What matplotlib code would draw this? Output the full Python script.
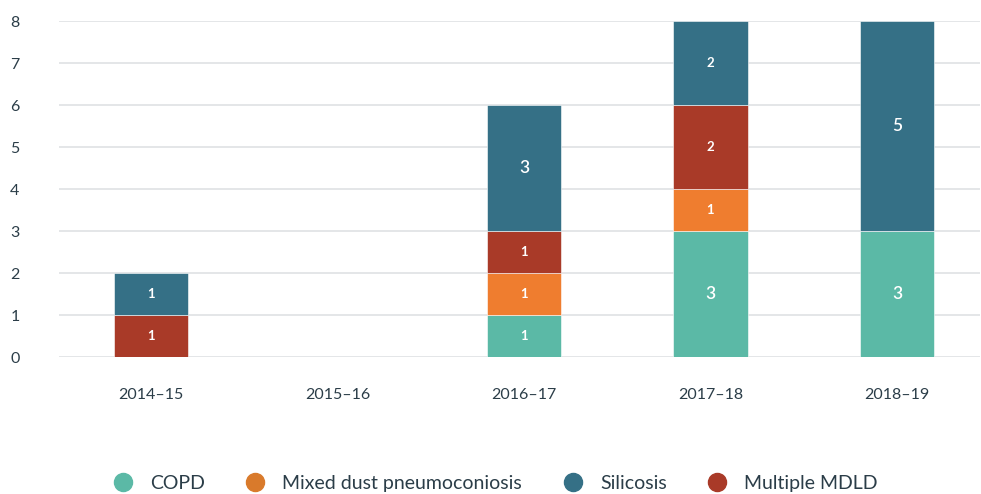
import numpy as np
import matplotlib.pyplot as plt
from matplotlib.lines import Line2D

plt.rcParams['font.family'] = ['Lato', 'DejaVu Sans']

years = ['2014–15', '2015–16', '2016–17', '2017–18', '2018–19']
copd = [0, 0, 1, 3, 3]
mixed_dust = [0, 0, 1, 1, 0]
multiple_mdld = [1, 0, 1, 2, 0]
silicosis = [1, 0, 3, 2, 5]

series = [
    ('COPD', copd, '#5bb9a6'),
    ('Mixed dust pneumoconiosis', mixed_dust, '#ef7d2f'),
    ('Multiple MDLD', multiple_mdld, '#a93a28'),
    ('Silicosis', silicosis, '#357086'),
]

fig = plt.figure(figsize=(9.81, 4.94), dpi=100)
ax = fig.add_axes([0.060, 0.277, 0.939, 0.680])

x = np.arange(len(years))
bottom = np.zeros(len(years))
for name, vals, col in series:
    vals = np.array(vals, dtype=float)
    ax.bar(x, vals, 0.4, bottom=bottom, color=col, edgecolor='white',
           linewidth=0.4, zorder=3)
    for xi, v, b in zip(x, vals, bottom):
        if v > 0:
            if v >= 3:
                ax.text(xi, b + v / 2, f'{int(v)}', ha='center', va='center',
                        color='white', fontsize=12.5, fontweight='semibold',
                        zorder=4)
            else:
                ax.text(xi, b + v / 2, f'{int(v)}', ha='center', va='center',
                        color='white', fontsize=9.5, fontweight='bold', zorder=4)
    bottom += vals

ax.set_xlim(-0.493, 4.445)
ax.set_ylim(0, 8)
ax.set_yticks(range(9))
ax.set_xticks(x)
ax.set_xticklabels(years)
ax.yaxis.grid(True, color='#dcdfe1', linewidth=1.1, zorder=0)
for s in ax.spines.values():
    s.set_visible(False)
ax.tick_params(axis='both', length=0, labelsize=11.5, colors='#2b3d48')
ax.tick_params(axis='y', pad=35)
ax.tick_params(axis='x', pad=22)
for lbl in ax.get_yticklabels():
    lbl.set_horizontalalignment('left')

handles = [Line2D([], [], marker='o', linestyle='', markersize=13, color=c)
           for c in ['#5bb9a6', '#d97a2b', '#357086', '#a93a28']]
labels = ['COPD', 'Mixed dust pneumoconiosis', 'Silicosis', 'Multiple MDLD']
fig.legend(handles, labels, loc='center', bbox_to_anchor=(0.5, 0.022), ncol=4,
           frameon=False, fontsize=14, handletextpad=0.4, columnspacing=1.6,
           labelcolor='#2b3d48')

fig.savefig('out.png', dpi=100)
